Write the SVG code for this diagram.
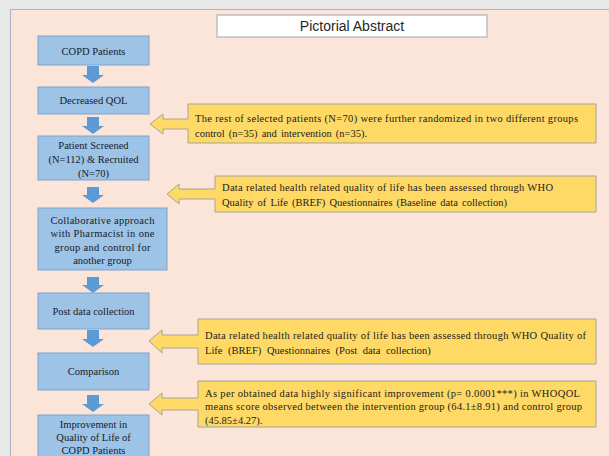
<svg xmlns="http://www.w3.org/2000/svg" width="609" height="456" viewBox="0 0 609 456">
<defs>
<style>
.bg{fill:#e8e8e8}
.panel{fill:#fbe5d8;stroke:#a8b4c2;stroke-width:1}
.title{fill:#ffffff;stroke:#a9b3bd;stroke-width:1.2}
.tt{font-family:"Liberation Sans","Open Sans",sans-serif;font-size:14px;fill:#262626}
.box{fill:#9dc3e6;stroke:#7aa3cf;stroke-width:1}
.bt{font-family:"Liberation Serif","DejaVu Serif",serif;font-size:10.5px;fill:#16202b;text-anchor:middle}
.dn{fill:#5b9bd5}
.call{fill:#ffd966;stroke:#a6a49a;stroke-width:1}
.ct{font-family:"Liberation Serif","DejaVu Serif",serif;font-size:10.5px;fill:#1c1c1c}
</style>
</defs>
<rect class="bg" x="0" y="0" width="609" height="456"/>
<rect class="panel" x="10.5" y="9.5" width="610" height="460"/>
<g id="title">
<rect class="title" x="217" y="15" width="270" height="22"/>
<text class="tt" x="352" y="31" text-anchor="middle">Pictorial Abstract</text>
</g>
<g id="connectors">
<path class="dn" d="M87,66 H99 V75 H104 L93,83 L82,75 H87 Z"/>
<path class="dn" d="M87,117 H99 V126 H104 L93,134 L82,126 H87 Z"/>
<path class="dn" d="M87,187 H99 V195 H104 L93,203 L82,195 H87 Z"/>
<path class="dn" d="M87,277 H99 V285 H104 L93,293 L82,285 H87 Z"/>
<path class="dn" d="M87,330 H99 V339 H104 L93,347 L82,339 H87 Z"/>
<path class="dn" d="M87,395 H99 V404 H104 L93,412 L82,404 H87 Z"/>
</g>
<g id="n1">
<rect class="box" x="38" y="36" width="111" height="29"/>
<text class="bt" x="93.5" y="55">COPD Patients</text>
</g>
<g id="n2">
<rect class="box" x="38" y="87" width="111" height="27"/>
<text class="bt" x="93.5" y="104">Decreased QOL</text>
</g>
<g id="n3">
<rect class="box" x="38" y="136" width="111" height="44"/>
<text class="bt" x="93.5" y="149">Patient  Screened</text>
<text class="bt" x="93.5" y="163">(N=112) &amp; Recruited</text>
<text class="bt" x="93.5" y="177">(N=70)</text>
</g>
<g id="n4">
<rect class="box" x="38" y="208" width="129" height="62"/>
<text class="bt" x="102.5" y="224" textLength="104" lengthAdjust="spacing">Collaborative  approach</text>
<text class="bt" x="102.5" y="237" textLength="104" lengthAdjust="spacing">with Pharmacist in one</text>
<text class="bt" x="102.5" y="251" textLength="96" lengthAdjust="spacing">group and control for</text>
<text class="bt" x="102.5" y="264">another group</text>
</g>
<g id="n5">
<rect class="box" x="38" y="293" width="111" height="36"/>
<text class="bt" x="93.5" y="315">Post data  collection</text>
</g>
<g id="n6">
<rect class="box" x="38" y="353" width="111" height="37"/>
<text class="bt" x="93.5" y="375">Comparison</text>
</g>
<g id="n7">
<rect class="box" x="38" y="415" width="111" height="50"/>
<text class="bt" x="93.5" y="428">Improvement  in</text>
<text class="bt" x="93.5" y="441">Quality  of Life  of</text>
<text class="bt" x="93.5" y="454">COPD Patients</text>
</g>
<g id="c1">
<path class="call" d="M188,104 H596 V143 H188 V129 H163 V134 L150,124 L163,114 V119 H188 Z"/>
<text class="ct" x="195" y="122" textLength="383" lengthAdjust="spacing">The rest of selected patients  (N=70) were further randomized  in  two different  groups</text>
<text class="ct" x="195" y="137" word-spacing="1.5">control  (n=35) and intervention  (n=35).</text>
</g>
<g id="c2">
<path class="call" d="M215,176 H596 V212 H215 V199 H179 V204 L167,194 L179,184 V189 H215 Z"/>
<text class="ct" x="222" y="191" textLength="331" lengthAdjust="spacing">Data related  health  related  quality  of life  has been assessed through  WHO</text>
<text class="ct" x="222" y="206" word-spacing="1.5">Quality  of Life  (BREF)  Questionnaires  (Baseline  data collection)</text>
</g>
<g id="c3">
<path class="call" d="M198,319 H596 V364 H198 V348 H162 V353 L149,341 L162,330 V335 H198 Z"/>
<text class="ct" x="205" y="339" textLength="381" lengthAdjust="spacing">Data related  health  related  quality  of life  has been assessed through  WHO Quality  of</text>
<text class="ct" x="205" y="354" word-spacing="3">Life  (BREF)  Questionnaires  (Post data collection)</text>
</g>
<g id="c4">
<path class="call" d="M198,381 H596 V427 H198 V410 H162 V415 L149,404 L162,393 V398 H198 Z"/>
<text class="ct" x="205" y="397" textLength="375" lengthAdjust="spacing">As per obtained  data highly  significant  improvement  (p= 0.0001***) in  WHOQOL</text>
<text class="ct" x="205" y="410" textLength="377" lengthAdjust="spacing">means  score observed between the intervention  group  (64.1±8.91) and control  group</text>
<text class="ct" x="205" y="424">(45.85±4.27).</text>
</g>
</svg>
